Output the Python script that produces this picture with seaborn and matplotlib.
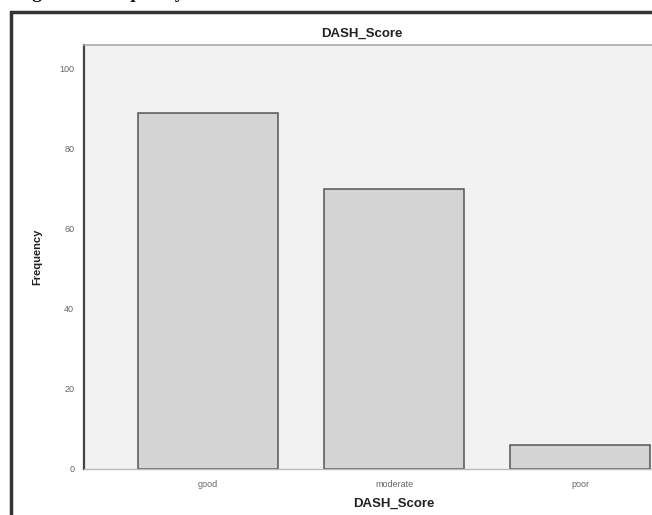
import pandas as pd
import numpy as np
from matplotlib import pyplot as plt
from matplotlib.patches import Rectangle
import seaborn as sns

sns.set_style("white")
plt.rcParams['font.family'] = ['Liberation Sans', 'DejaVu Sans']
plt.rcParams['figure.dpi'] = 100

# data
categories = ["good", "moderate", "poor"]
frequency = [89, 70, 6]
yticks = [0, 20, 40, 60, 80, 100]

df = pd.DataFrame({"DASH_Score": categories, "Frequency": frequency})

W, H = 652, 515
fig = plt.figure(figsize=(W / 100, H / 100), dpi=100)

# plot area is cut off on the right side of the screenshot
ax = fig.add_axes([84 / W, 1 - 469 / H, 620 / W, 424 / H])
ax.set_facecolor('#f2f2f2')

sns.barplot(
    data=df, x="DASH_Score", y="Frequency",
    order=categories,
    color='#d4d4d4', saturation=1,
    width=0.75,
    edgecolor='#555555', linewidth=1.1,
    ax=ax
)

ax.set_xlim(-0.667, 2.667)
ax.set_ylim(0, 106)
ax.set_yticks(yticks)
ax.set_yticklabels([str(v) for v in yticks])

ax.tick_params(axis='both', direction='out', length=5, width=1, colors='#444444',
               labelsize=6.5, labelcolor='#666666', pad=2)
ax.tick_params(axis='x', pad=4, length=4)

ax.spines['right'].set_visible(False)
ax.spines['left'].set_color('#444444')
ax.spines['left'].set_linewidth(1.6)
ax.spines['bottom'].set_color('#bbbbbb')
ax.spines['bottom'].set_linewidth(1.0)
ax.spines['top'].set_color('#aaaaaa')
ax.spines['top'].set_linewidth(1.2)

ax.set_xlabel("DASH_Score", fontsize=9.5, fontweight='bold', color='#222222', labelpad=6)
ax.set_ylabel("Frequency", fontsize=8, fontweight='bold', color='#222222', labelpad=12)

# chart title (centered on the SPSS chart frame)
fig.text(362 / W, 1 - 34 / H, "DASH_Score", ha='center', va='center',
         fontsize=9.5, fontweight='bold', color='#222222')

# outer chart frame, also running past the screenshot edges
fig.patches.append(Rectangle((11 / W, -0.2), 1.2, 1 - 12 / H + 0.2,
                             transform=fig.transFigure, fill=False,
                             edgecolor='#333333', linewidth=2.5, zorder=5))

# caption above the frame, cut off by the screenshot so only descenders show
fig.text(15 / W, 1 + 2.5 / H, "Figure 3: Frequency of DASH score", ha='left', va='baseline',
         fontsize=14, fontweight='bold', family=['Liberation Serif', 'DejaVu Serif'],
         color='#111111')

fig.savefig("out.png", dpi=100)
plt.close()
